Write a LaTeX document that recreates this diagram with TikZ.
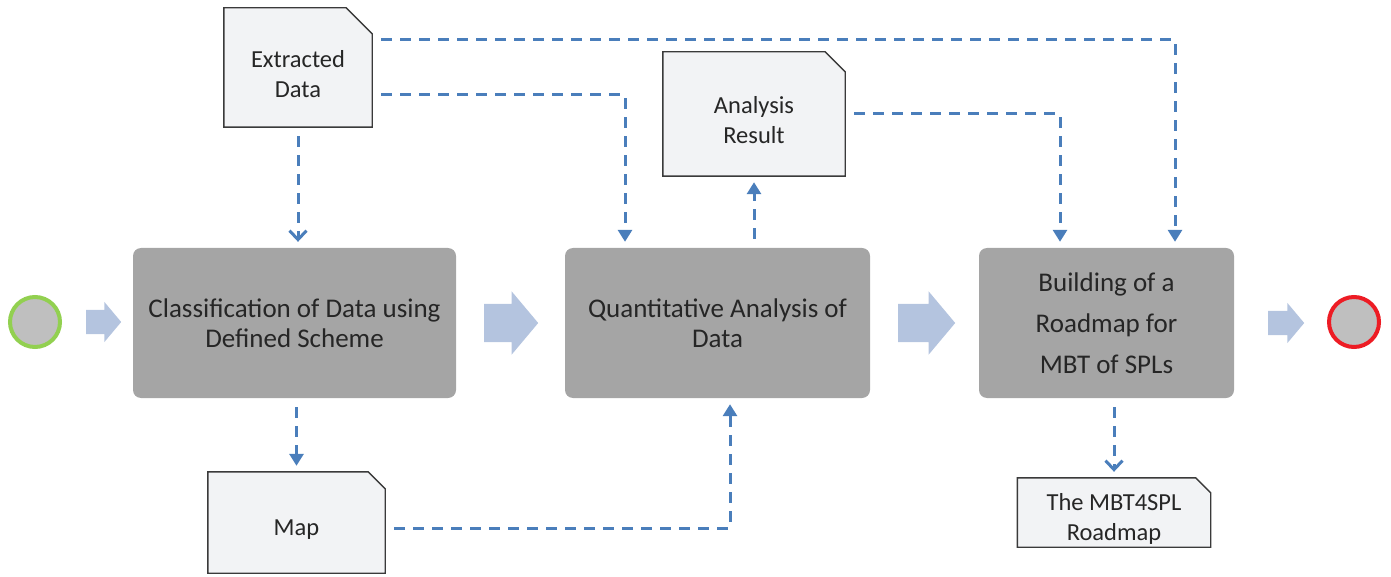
\documentclass[tikz,border=0pt]{standalone}
\usepackage{fontspec}
\setmainfont{Carlito}
\usetikzlibrary{arrows.meta,shapes.arrows,calc}
\definecolor{boxgray}{HTML}{A5A5A5}
\definecolor{docfill}{HTML}{F2F3F5}
\definecolor{docline}{HTML}{3A3A3A}
\definecolor{dashblue}{HTML}{4A7EBB}
\definecolor{arrowblue}{HTML}{B4C4DF}
\definecolor{circfill}{HTML}{BFBFBF}
\definecolor{startgreen}{HTML}{92D050}
\definecolor{endred}{HTML}{ED1C24}
\definecolor{txtcol}{HTML}{262626}
\pgfdeclarelayer{background}
\pgfsetlayers{background,main}
\newcommand{\docstrut}{\rule{0pt}{30pt}}
\newcommand{\docoutline}[2]{%
  \begin{pgfonlayer}{background}
  \draw[docshape] (#1.south west) -- (#1.north west) -- ([xshift=-#2]#1.north east)
    -- ([yshift=-#2]#1.north east) -- (#1.south east) -- cycle;
  \end{pgfonlayer}}
\begin{document}
\begin{tikzpicture}[x=1pt,y=-1pt,
  procbox/.style={rectangle, rounded corners=8pt, fill=boxgray, draw=none, inner sep=0pt, align=center, font=\fontsize{27}{30}\selectfont, text=txtcol},
  docbox/.style={rectangle, draw=none, inner sep=0pt, align=center, font=\fontsize{24.5}{30}\selectfont, text=txtcol},
  docshape/.style={fill=docfill, draw=docline, line width=1.4pt, line join=miter},
  flowarrow/.style={single arrow, fill=arrowblue, draw=none, inner xsep=0pt, single arrow tip angle=100, anchor=tail},
  datalink/.style={draw=dashblue, line width=3pt, dash pattern=on 11pt off 8pt, shorten <=9pt, shorten >=6pt, -{Triangle[width=14pt,length=12pt]}},
  openlink/.style={datalink, -{Straight Barb[width=17pt,length=9pt,line width=3pt]}},
  event/.style={circle, fill=circfill, line width=4pt, minimum size=50pt, inner sep=0pt}
]
\useasboundingbox (0,0) rectangle (1391,577);

% events
\node[event, draw=startgreen] (start) at (35,322) {};
\node[event, draw=endred] (stop) at (1354,322) {};

% process boxes
\node[procbox, minimum width=323pt, minimum height=150pt] (b1) at (294.5,323) {Classification of Data using\\Defined Scheme};
\node[procbox, minimum width=305pt, minimum height=150pt] (b2) at (717.5,323) {Quantitative Analysis of\\Data};
\node[procbox, minimum width=255pt, minimum height=150pt, font=\fontsize{27}{41}\selectfont] (b3) at (1106.5,323) {Building of a\\Roadmap for\\MBT of SPLs};

% flow arrows
\node[flowarrow, minimum height=35pt, inner ysep=12pt, single arrow head extend=8pt] (f1) at (86,322) {};
\node[flowarrow, minimum height=54pt, inner ysep=19pt, single arrow head extend=12.5pt] (f2) at (484,323) {};
\node[flowarrow, minimum height=57pt, inner ysep=19pt, single arrow head extend=12.5pt] (f3) at (898,323) {};
\node[flowarrow, minimum height=36pt, inner ysep=12pt, single arrow head extend=8pt] (f4) at (1268,323) {};

% documents
\node[docbox, minimum width=148pt, minimum height=119pt] (ed) at (298,67.5) {\docstrut Extracted\\Data};
\node[docbox, minimum width=182pt, minimum height=124pt] (ar) at (754,114) {\docstrut Analysis\\Result};
\node[docbox, minimum width=177pt, minimum height=101pt] (map) at (296.5,522.5) {\docstrut Map};
\node[docbox, minimum width=193pt, minimum height=69pt] (rm) at (1114,512.5) {\docstrut The MBT4SPL\\Roadmap};
\docoutline{ed}{26pt}
\docoutline{ar}{20pt}
\docoutline{map}{17pt}
\docoutline{rm}{15pt}

% data links
\draw[openlink] (ed.south) -- (ed.south |- b1.north);
\draw[datalink] ($(ed.east)+(0,27.5)$) -| ($(b2.north)+(-92.5,0)$);
\draw[datalink] ($(ed.east)+(0,-27.5)$) -| ($(b3.north)+(68.5,0)$);
\draw[datalink] (ar.east) -| ($(b3.north)+(-46.5,0)$);
\draw[datalink] (ar.south |- b2.north) -- (ar.south);
\draw[datalink] (map.north |- b1.south) -- (map.north);
\draw[datalink] ($(map.east)+(0,5.5)$) -| ($(b2.south)+(12.5,0)$);
\draw[openlink] (rm.north |- b3.south) -- (rm.north);
\end{tikzpicture}
\end{document}
